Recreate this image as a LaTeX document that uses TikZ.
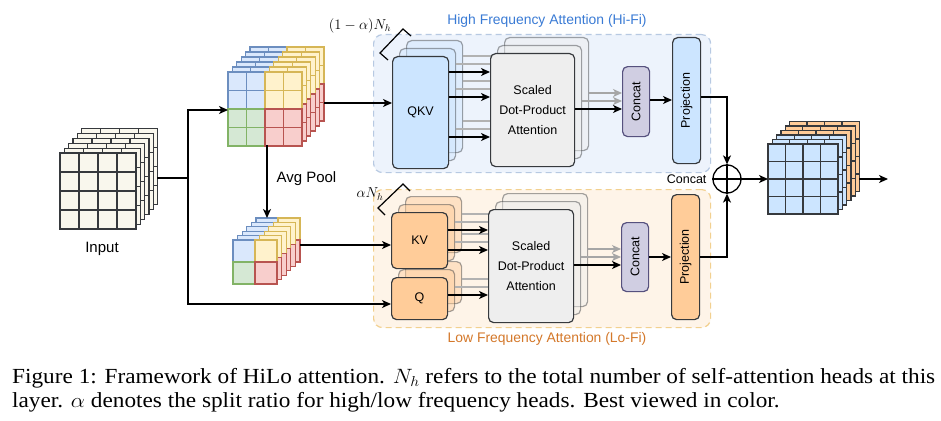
\documentclass[tikz,border=0pt]{standalone}
\usepackage{fontspec}
\setmainfont{Liberation Serif}
\newfontfamily\dfont{Liberation Sans}
\usepackage{graphicx}
\usetikzlibrary{arrows.meta,calc}
\definecolor{dg}{HTML}{36393D}
\definecolor{bluef}{HTML}{DAE8FC}\definecolor{blues}{HTML}{6C8EBF}
\definecolor{yelf}{HTML}{FFF2CC}\definecolor{yels}{HTML}{D6B656}
\definecolor{grnf}{HTML}{D5E8D4}\definecolor{grns}{HTML}{82B366}
\definecolor{redf}{HTML}{F8CECC}\definecolor{reds}{HTML}{B85450}
\definecolor{inpf}{HTML}{F9F7ED}
\definecolor{projf}{HTML}{CCE5FF}
\definecolor{orf}{HTML}{FFCC99}
\definecolor{sdpf}{HTML}{EEEEEE}
\definecolor{catf}{HTML}{D0CEE2}\definecolor{cats}{HTML}{56517E}
\definecolor{hibg}{HTML}{EDF3FC}\definecolor{hibd}{HTML}{B7C9E2}
\definecolor{lobg}{HTML}{FEF4E8}\definecolor{lobd}{HTML}{F2D08F}
\definecolor{hitxt}{HTML}{3A7BD5}\definecolor{lotxt}{HTML}{D4782A}
\begin{document}
\begin{tikzpicture}[x=1pt,y=-1pt,
  lbl/.style={font=\dfont\fontsize{12.5}{20}\selectfont, text=black},
  bx/.style={draw=dg, line width=1.2pt, rounded corners=5pt, inner sep=0pt, anchor=north west, lbl, align=center},
  back/.style={bx, fill opacity=0.45, draw opacity=0.45},
  arr/.style={line width=1.3pt, -{Stealth[length=9pt,width=8pt,inset=2.5pt]}},
  garr/.style={line width=1.1pt, draw=gray!70, -{Stealth[length=9pt,width=8pt,inset=2.5pt]}},
  ln/.style={line width=1.3pt},
  gl/.style={line width=1.1pt, draw=gray!60},
  ci/.style={draw=dg, fill=inpf, line width=1.2pt},
  cb/.style={draw=blues, fill=bluef, line width=1.1pt},
  cy/.style={draw=yels, fill=yelf, line width=1.1pt},
  cg/.style={draw=grns, fill=grnf, line width=1.1pt},
  cr/.style={draw=reds, fill=redf, line width=1.1pt},
  co/.style={draw=dg, fill=projf, line width=1.2pt},
  cor/.style={draw=dg, fill=orf, line width=1.2pt},
  region/.style={dashed, dash pattern=on 6pt off 4pt, line width=1.2pt, rounded corners=9pt, anchor=north west, inner sep=0pt},
  title/.style={font=\dfont\fontsize{13.9}{16}\selectfont},
  outl/.style={font=\dfont\fontsize{15}{18}\selectfont}
]
\fill[white] (0,0) rectangle (941,420);
\useasboundingbox (0,0) rectangle (941,420);

% ---------- regions ----------
\node[region, draw=hibd, fill=hibg, minimum width=337, minimum height=138] (hifi) at (373,34) {};
\node[region, draw=lobd, fill=lobg, minimum width=337, minimum height=138] (lofi) at (373,189) {};
\node[title, text=hitxt] (hit) at (547,21) {High Frequency Attention (Hi-Fi)};
\node[title, text=lotxt] (lot) at (547,339) {Low Frequency Attention (Lo-Fi)};

% ---------- input cube ----------
\foreach \k in {5,4,...,0}{
  \begin{scope}[shift={(4.3*\k,-4.9*\k)}]
    \foreach \i in {0,...,3}{\foreach \j in {0,...,3}{
      \draw[ci] (60+19*\i,153+19*\j) rectangle ++(19,19);}}
  \end{scope}}
\node[outl] (inlbl) at (102,249) {Input};

% ---------- coloured cube ----------
\foreach \k in {5,4,...,0}{
  \begin{scope}[shift={(4.4*\k,-5*\k)}]
    \foreach \i in {0,...,3}{\foreach \j in {0,...,3}{
      \ifnum\i<2\relax \ifnum\j<2\relax \def\cs{cb}\else\def\cs{cg}\fi
      \else \ifnum\j<2\relax \def\cs{cy}\else\def\cs{cr}\fi\fi
      \draw[\cs] (228+18.5*\i,72+18.5*\j) rectangle ++(18.5,18.5);}}
  \end{scope}}

% ---------- small cube ----------
\foreach \k in {5,4,...,0}{
  \begin{scope}[shift={(4.6*\k,-4.4*\k)}]
    \draw[cb] (233,240) rectangle ++(22,22);
    \draw[cy] (255,240) rectangle ++(22,22);
    \draw[cg] (233,262) rectangle ++(22,22);
    \draw[cr] (255,262) rectangle ++(22,22);
  \end{scope}}

% ---------- output cube ----------
\foreach \k in {5,4,...,0}{
  \begin{scope}[shift={(4.3*\k,-4.5*\k)}]
    \ifnum\k>2\relax \def\cs{cor}\else\def\cs{co}\fi
    \foreach \i in {0,...,3}{\foreach \j in {0,...,3}{
      \draw[\cs] (768+17.5*\i,144+17.5*\j) rectangle ++(17.5,17.5);}}
  \end{scope}}

% ---------- Hi-Fi branch ----------
\node[back, fill=projf, minimum width=56, minimum height=112] (qkvb2) at (406,40) {};
\node[back, fill=projf, minimum width=56, minimum height=112] (qkvb1) at (399,48) {};
\node[bx, fill=projf, minimum width=56, minimum height=112] (qkv) at (392,56) {QKV};
\foreach \y in {72,97,137}{
  \draw[gl] (qkvb1.east |- 0,\y-8) -- (497,\y-8);
  \draw[gl] (qkvb2.east |- 0,\y-16) -- (504,\y-16);}
\node[back, fill=sdpf, minimum width=84, minimum height=113] (sdhb2) at (504,37) {};
\node[back, fill=sdpf, minimum width=84, minimum height=113] (sdhb1) at (497,45) {};
\node[bx, fill=sdpf, minimum width=84, minimum height=113] (sdh) at (490,53) {Scaled\\Dot-Product\\Attention};
\foreach \y in {72,97,137}{
  \draw[arr] (qkv.east |- 0,\y) -- (sdh.west |- 0,\y);}
\node[bx, fill=catf, draw=cats, minimum width=27, minimum height=70] (cath) at (622,66) {\rotatebox{90}{Concat}};
\node[bx, fill=projf, minimum width=28, minimum height=126] (projh) at (672,37) {\rotatebox{90}{Projection}};
\draw[garr] (sdhb2.east |- 0,93) -- (cath.west |- 0,93);
\draw[garr] (sdhb1.east |- 0,101) -- (cath.west |- 0,101);
\draw[arr] (sdh.east |- 0,109) -- (cath.west |- 0,109);
\draw[arr] (cath.east |- 0,100) -- (projh.west |- 0,100);

% ---------- Lo-Fi branch ----------
\node[back, fill=orf, minimum width=56, minimum height=42] (qb2) at (405,261) {};
\node[back, fill=orf, minimum width=56, minimum height=42] (qb1) at (398,269) {};
\node[bx, fill=orf, minimum width=56, minimum height=42] (q) at (391,277) {Q};
\node[back, fill=orf, minimum width=56, minimum height=56] (kvb2) at (405,196) {};
\node[back, fill=orf, minimum width=56, minimum height=56] (kvb1) at (398,204) {};
\node[bx, fill=orf, minimum width=56, minimum height=56] (kv) at (391,212) {KV};
\foreach \y in {230,250}{
  \draw[gl] (kvb1.east |- 0,\y-8) -- (495,\y-8);
  \draw[gl] (kvb2.east |- 0,\y-16) -- (502,\y-16);}
\draw[gl] (qb1.east |- 0,287) -- (495,287);
\draw[gl] (qb2.east |- 0,279) -- (502,279);
\node[back, fill=sdpf, minimum width=85, minimum height=113] (sdlb2) at (502,193) {};
\node[back, fill=sdpf, minimum width=85, minimum height=113] (sdlb1) at (495,201) {};
\node[bx, fill=sdpf, minimum width=85, minimum height=113] (sdl) at (488,209) {Scaled\\Dot-Product\\Attention};
\foreach \y in {230,250}{
  \draw[arr] (kv.east |- 0,\y) -- (sdl.west |- 0,\y);}
\draw[arr] (q.east |- 0,295) -- (sdl.west |- 0,295);
\node[bx, fill=catf, draw=cats, minimum width=27, minimum height=69] (catl) at (621,222) {\rotatebox{90}{Concat}};
\node[bx, fill=orf, minimum width=28, minimum height=125] (projl) at (671,194) {\rotatebox{90}{Projection}};
\draw[garr] (sdlb2.east |- 0,249) -- (catl.west |- 0,249);
\draw[garr] (sdlb1.east |- 0,257) -- (catl.west |- 0,257);
\draw[arr] (sdl.east |- 0,265) -- (catl.west |- 0,265);
\draw[arr] (catl.east |- 0,257) -- (projl.west |- 0,257);

% ---------- head-count brackets ----------
\draw[line width=1.2pt] (388,60) -- (380,53) -- (403,29) -- (411,36);
\draw[line width=1.2pt] (385,215) -- (378,208) -- (403,184) -- (410,191);
\node[font=\fontsize{14.5}{16}\selectfont] (nhi) at (360,26) {$(1-\alpha)N_h$};
\node[font=\fontsize{14.5}{16}\selectfont] (nlo) at (370,194) {$\alpha N_h$};

% ---------- main connectors ----------
\coordinate (inR) at (157,178);
\coordinate (sp) at (188,178);
\coordinate (ccL) at (228,110);
\coordinate (ccR) at (324,103);
\coordinate (ccB) at (267,145);
\coordinate (scT) at (267,218);
\coordinate (scR) at (300,245);
\draw[ln] (inR) -- (sp);
\draw[arr] (sp) |- (ccL);
\draw[arr] (sp) |- (q.west |- 0,304);
\draw[arr] (ccR) -- (qkv.west |- ccR);
\draw[arr] (ccB) -- (scT);
\node[outl, anchor=west] (avg) at (273,179) {Avg Pool};
\draw[arr] (scR) -- (kv.west |- scR);

\node[circle, draw=black, line width=1.3pt, minimum size=28, inner sep=0pt] (circ) at (727,179) {};
\draw[line width=1.3pt] (circ.north) -- (circ.south) (circ.west) -- (circ.east);
\node[lbl, anchor=east] (catlbl) at (710,179) {Concat};
\draw[arr] (projh.east |- 0,97) -| (circ.north);
\draw[arr] (projl.east |- 0,257) -| (circ.south);
\coordinate (ocL) at (768,179);
\coordinate (ocR) at (859,179);
\coordinate (oEnd) at (888,179);
\draw[arr] (circ.east) -- (ocL);
\draw[arr] (ocR) -- (oEnd);

% ---------- caption ----------
\node[anchor=north west, inner sep=0pt] (cap) at (12,366) {\resizebox{923pt}{\height}{\fontsize{21.5}{24}\selectfont\begin{tabular}{@{}l@{}}Figure 1: Framework of HiLo attention. $N_h$ refers to the total number of self-attention heads at this\\ layer. $\alpha$ denotes the split ratio for high/low frequency heads. Best viewed in color.\end{tabular}}};
\end{tikzpicture}
\end{document}
